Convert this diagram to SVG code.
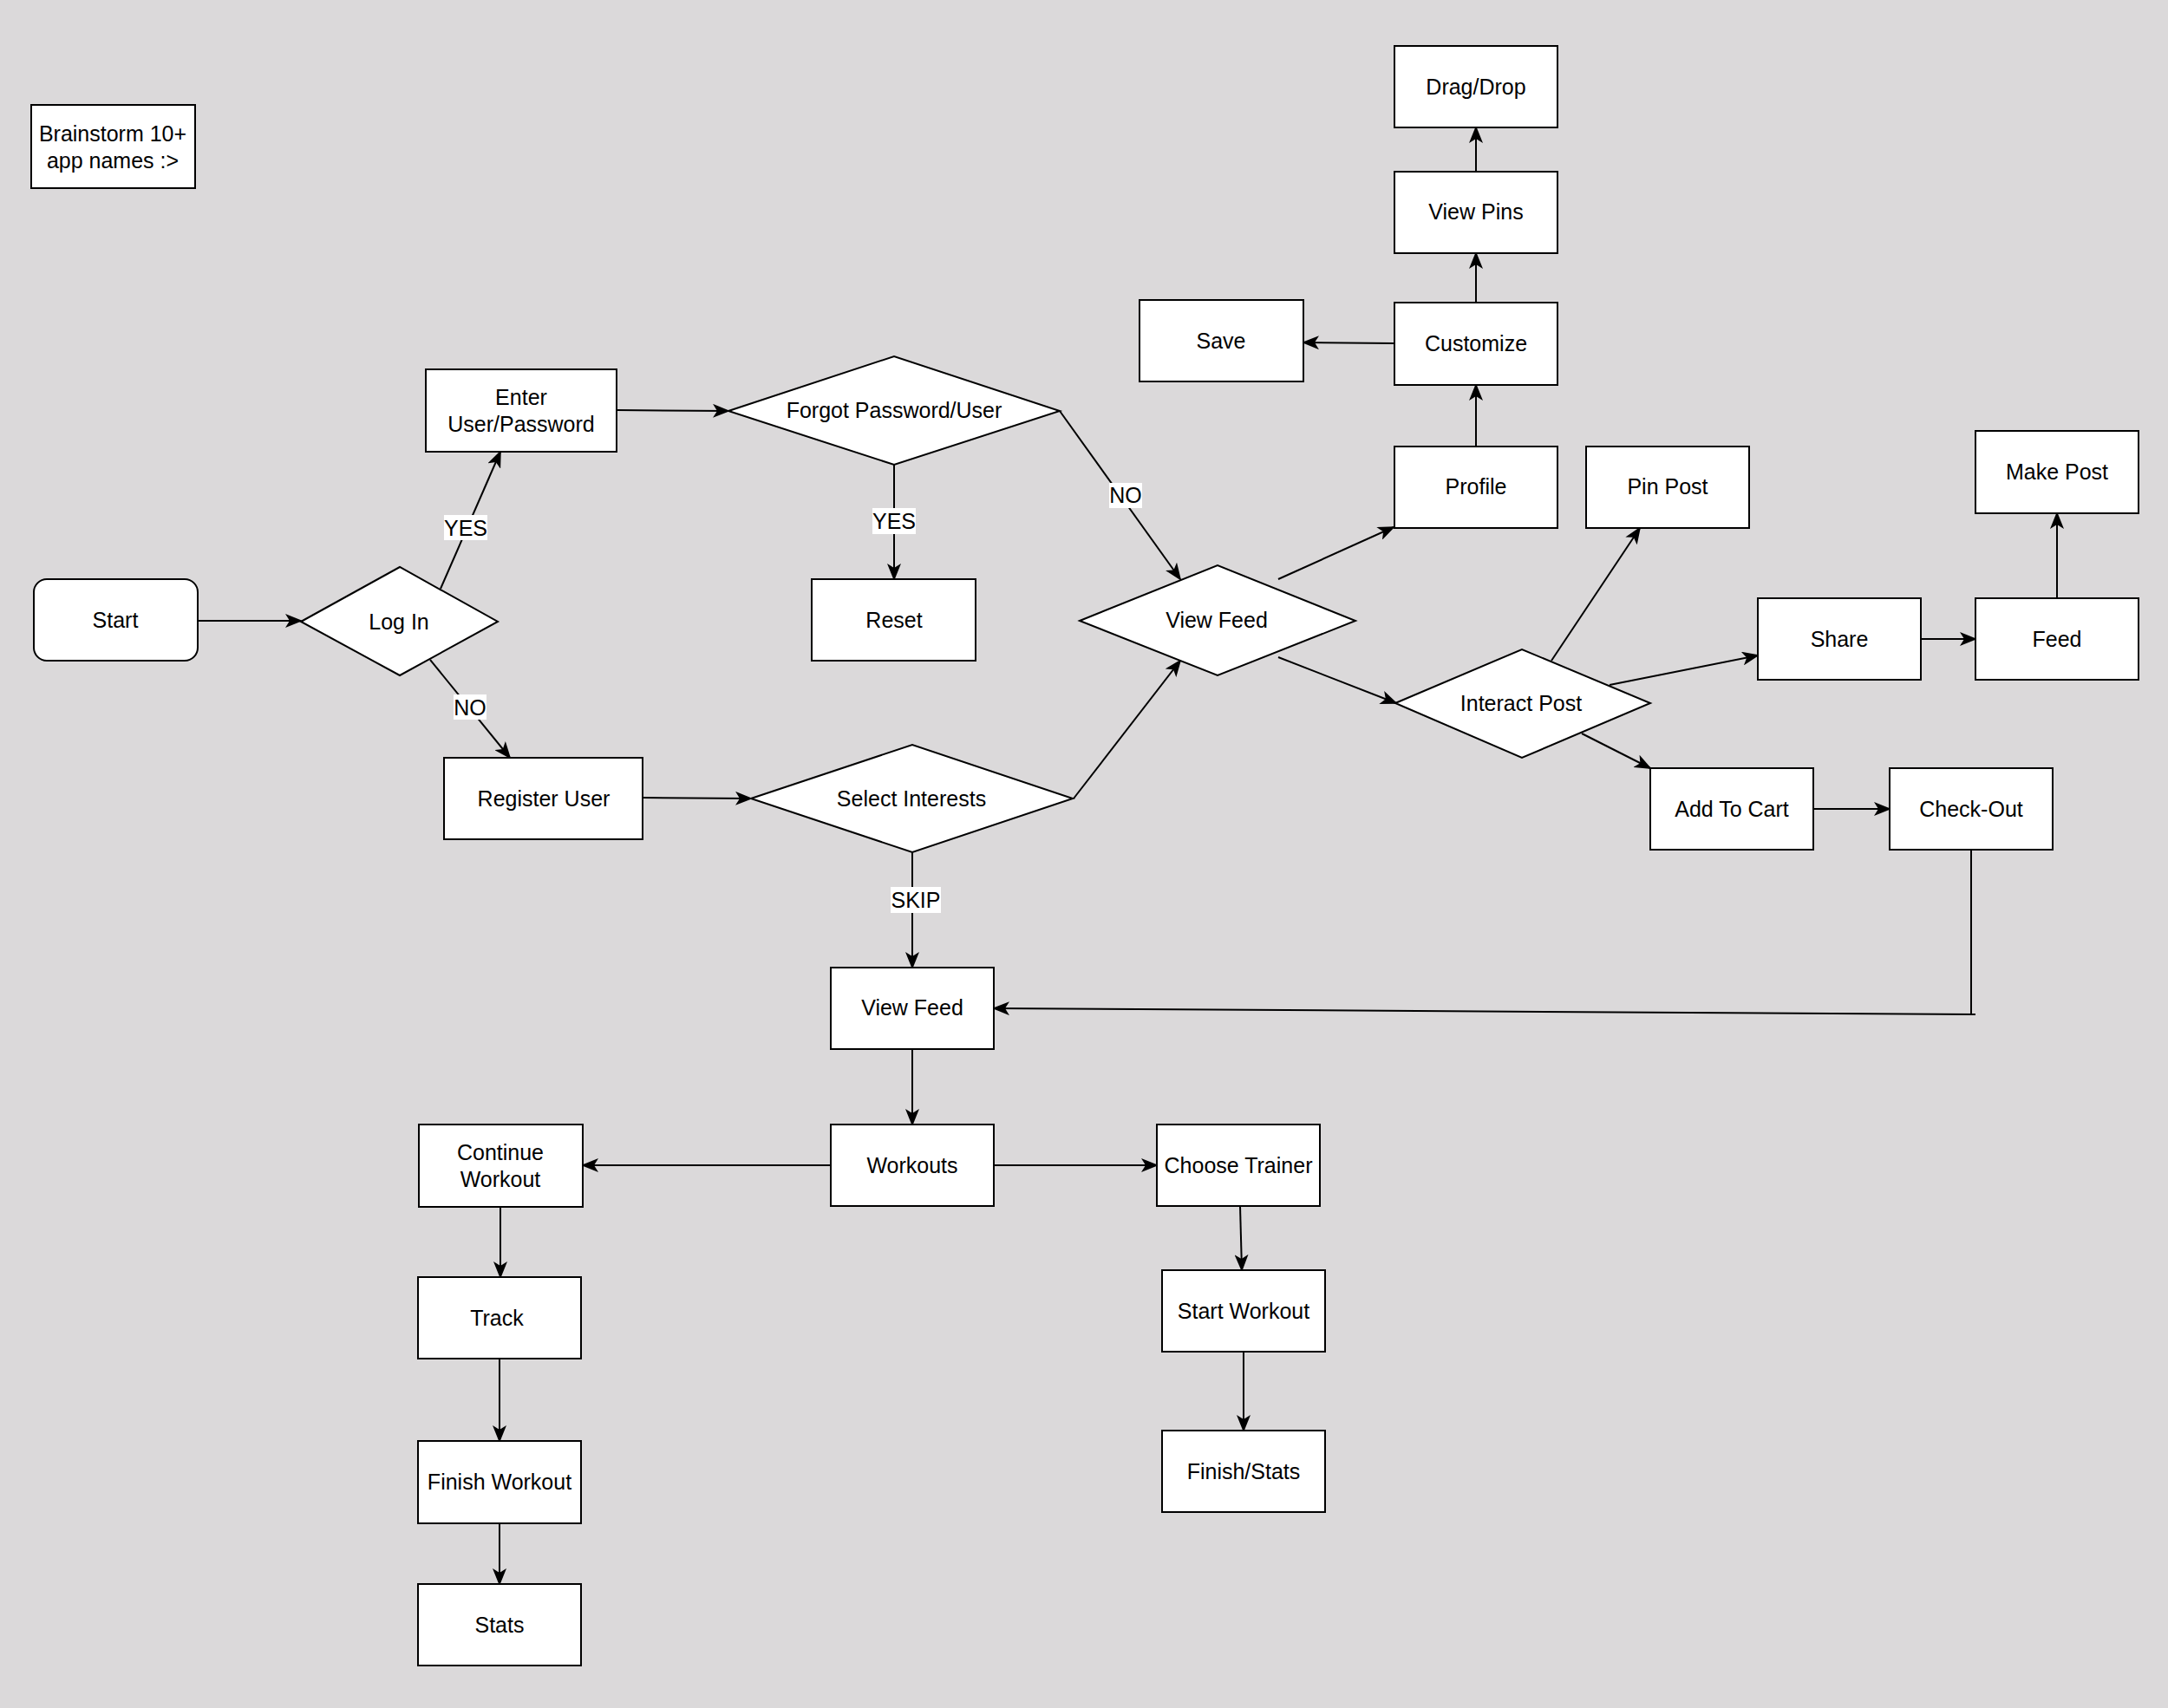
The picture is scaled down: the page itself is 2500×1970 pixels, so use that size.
<svg xmlns="http://www.w3.org/2000/svg" width="2500" height="1970" viewBox="0 0 2500 1970">
<style>
.n{fill:#fff;stroke:#000;stroke-width:2}
.t{font-family:"Liberation Sans",Arial,sans-serif;font-size:25px;fill:#000;text-anchor:middle;dominant-baseline:central}
.c{fill:none;stroke:#000;stroke-width:2;marker-end:url(#ah)}
.lb{fill:#fff}
</style>
<defs>
<marker id="ah" viewBox="0 0 20 16" refX="18" refY="8" markerWidth="20" markerHeight="16" markerUnits="userSpaceOnUse" orient="auto">
<path d="M0,0 L20,8 L0,16 L5,8 z" fill="#000"/>
</marker>
</defs>
<rect width="2500" height="1970" fill="#dbd9da"/>
<g id="connectors">
<path class="c" d="M227,716 L347,716"/>
<path class="c" d="M508,679 L577,521"/>
<path class="c" d="M496,761 L588,874"/>
<path class="c" d="M711,473 L840,474"/>
<path class="c" d="M1031,536 L1031,668"/>
<path class="c" d="M1222,474 L1361,668"/>
<path class="c" d="M741,920 L866,921"/>
<path class="c" d="M1238,921 L1361,762"/>
<path class="c" d="M1052,983 L1052,1116"/>
<path class="c" d="M1474,668 L1607,608"/>
<path class="c" d="M1474,758 L1610,811"/>
<path class="c" d="M1702,515 L1702,444"/>
<path class="c" d="M1702,349 L1702,292"/>
<path class="c" d="M1702,198 L1702,147"/>
<path class="c" d="M1608,396 L1503,395"/>
<path class="c" d="M1789,762 L1891,609"/>
<path class="c" d="M1856,790 L2027,756"/>
<path class="c" d="M1824,846 L1903,886"/>
<path class="c" d="M2215,737 L2278,737"/>
<path class="c" d="M2372,690 L2372,592"/>
<path class="c" d="M2091,933 L2179,933"/>
<path class="c" d="M2273,980 L2273,1169 M2278,1170 L1146,1163"/>
<path class="c" d="M1052,1210 L1052,1297"/>
<path class="c" d="M958,1344 L672,1344"/>
<path class="c" d="M1146,1344 L1334,1344"/>
<path class="c" d="M577,1392 L577,1473"/>
<path class="c" d="M576,1567 L576,1662"/>
<path class="c" d="M576,1757 L576,1827"/>
<path class="c" d="M1430,1391 L1432,1465"/>
<path class="c" d="M1434,1559 L1434,1650"/>
<g id="labels">
<rect class="lb" x="512" y="594" width="50" height="29"/><text class="t" x="537" y="609">YES</text>
<rect class="lb" x="523" y="801" width="38" height="29"/><text class="t" x="542" y="816">NO</text>
<rect class="lb" x="1006" y="586" width="50" height="30"/><text class="t" x="1031" y="601">YES</text>
<rect class="lb" x="1279" y="557" width="38" height="29"/><text class="t" x="1298" y="571">NO</text>
<rect class="lb" x="1027" y="1023" width="58" height="30"/><text class="t" x="1056" y="1038">SKIP</text>
</g>
</g>
<g id="brainstorm"><rect class="n" x="36" y="121" width="189" height="96"/><text class="t" x="130" y="154">Brainstorm 10+</text><text class="t" x="130" y="185">app names :&gt;</text></g>
<g id="start"><rect class="n" x="39" y="668" width="189" height="94" rx="15"/><text class="t" x="133" y="715">Start</text></g>
<g id="login"><polygon class="n" points="347,717 461,654 574,717 461,779"/><text class="t" x="460" y="717">Log In</text></g>
<g id="enter"><rect class="n" x="491" y="426" width="220" height="95"/><text class="t" x="601" y="458">Enter</text><text class="t" x="601" y="489">User/Password</text></g>
<g id="register"><rect class="n" x="512" y="874" width="229" height="94"/><text class="t" x="627" y="921">Register User</text></g>
<g id="forgot"><polygon class="n" points="840,474 1031,411 1222,474 1031,536"/><text class="t" x="1031" y="473">Forgot Password/User</text></g>
<g id="reset"><rect class="n" x="936" y="668" width="189" height="94"/><text class="t" x="1031" y="715">Reset</text></g>
<g id="select"><polygon class="n" points="866,921 1052,859 1237,921 1052,983"/><text class="t" x="1051" y="921">Select Interests</text></g>
<g id="viewfeed-d"><polygon class="n" points="1245,716 1404,652 1563,716 1404,779"/><text class="t" x="1403" y="715">View Feed</text></g>
<g id="viewfeed"><rect class="n" x="958" y="1116" width="188" height="94"/><text class="t" x="1052" y="1162">View Feed</text></g>
<g id="profile"><rect class="n" x="1608" y="515" width="188" height="94"/><text class="t" x="1702" y="561">Profile</text></g>
<g id="customize"><rect class="n" x="1608" y="349" width="188" height="95"/><text class="t" x="1702" y="396">Customize</text></g>
<g id="viewpins"><rect class="n" x="1608" y="198" width="188" height="94"/><text class="t" x="1702" y="244">View Pins</text></g>
<g id="dragdrop"><rect class="n" x="1608" y="53" width="188" height="94"/><text class="t" x="1702" y="100">Drag/Drop</text></g>
<g id="save"><rect class="n" x="1314" y="346" width="189" height="94"/><text class="t" x="1408" y="393">Save</text></g>
<g id="pinpost"><rect class="n" x="1829" y="515" width="188" height="94"/><text class="t" x="1923" y="561">Pin Post</text></g>
<g id="interact"><polygon class="n" points="1609,811 1755,749 1903,811 1755,874"/><text class="t" x="1754" y="811">Interact Post</text></g>
<g id="share"><rect class="n" x="2027" y="690" width="188" height="94"/><text class="t" x="2121" y="737">Share</text></g>
<g id="feed"><rect class="n" x="2278" y="690" width="188" height="94"/><text class="t" x="2372" y="737">Feed</text></g>
<g id="makepost"><rect class="n" x="2278" y="497" width="188" height="95"/><text class="t" x="2372" y="544">Make Post</text></g>
<g id="addtocart"><rect class="n" x="1903" y="886" width="188" height="94"/><text class="t" x="1997" y="933">Add To Cart</text></g>
<g id="checkout"><rect class="n" x="2179" y="886" width="188" height="94"/><text class="t" x="2273" y="933">Check-Out</text></g>
<g id="workouts"><rect class="n" x="958" y="1297" width="188" height="94"/><text class="t" x="1052" y="1344">Workouts</text></g>
<g id="continue"><rect class="n" x="483" y="1297" width="189" height="95"/><text class="t" x="577" y="1329">Continue</text><text class="t" x="577" y="1360">Workout</text></g>
<g id="choose"><rect class="n" x="1334" y="1297" width="188" height="94"/><text class="t" x="1428" y="1344">Choose Trainer</text></g>
<g id="track"><rect class="n" x="482" y="1473" width="188" height="94"/><text class="t" x="573" y="1520">Track</text></g>
<g id="finishworkout"><rect class="n" x="482" y="1662" width="188" height="95"/><text class="t" x="576" y="1709">Finish Workout</text></g>
<g id="stats"><rect class="n" x="482" y="1827" width="188" height="94"/><text class="t" x="576" y="1874">Stats</text></g>
<g id="startworkout"><rect class="n" x="1340" y="1465" width="188" height="94"/><text class="t" x="1434" y="1512">Start Workout</text></g>
<g id="finishstats"><rect class="n" x="1340" y="1650" width="188" height="94"/><text class="t" x="1434" y="1697">Finish/Stats</text></g>
</svg>
